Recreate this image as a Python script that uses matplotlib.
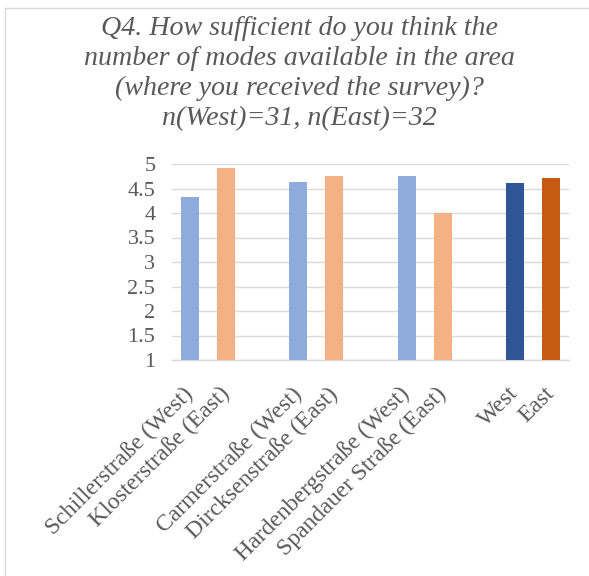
import matplotlib
matplotlib.use("Agg")
import matplotlib.pyplot as plt
from matplotlib.lines import Line2D

# Mean rating per survey location (scale 1-5)
groups = [
    ["Schillerstraße (West)", "Klosterstraße (East)"],
    ["Carmerstraße (West)", "Dircksenstraße (East)"],
    ["Hardenbergstraße (West)", "Spandauer Straße (East)"],
    ["West", "East"],
]
values = [
    [4.33, 4.92],
    [4.63, 4.75],
    [4.75, 4.00],
    [4.61, 4.71],
]
bar_colors = [
    ["#8FAADC", "#F4B183"],
    ["#8FAADC", "#F4B183"],
    ["#8FAADC", "#F4B183"],
    ["#2F5597", "#C55A11"],
]
yticks = [1, 1.5, 2, 2.5, 3, 3.5, 4, 4.5, 5]
title = ("Q4. How sufficient do you think the\n"
         "number of modes available in the area\n"
         "(where you received the survey)?\n"
         "n(West)=31, n(East)=32")

text_color = "#595959"
grid_color = "#D9D9D9"
serif = ["Liberation Serif", "DejaVu Serif"]

fig = plt.figure(figsize=(5.89, 5.76), dpi=100)
ax = fig.add_axes([172 / 589, 1 - 360 / 576, 397 / 589, 196 / 576])

# one empty slot between each pair of bars
positions, labels, heights, colors = [], [], [], []
for g, (names, vals, cols) in enumerate(zip(groups, values, bar_colors)):
    for i in range(2):
        positions.append(g * 3 + i)
        labels.append(names[i])
        heights.append(vals[i])
        colors.append(cols[i])

ax.bar(positions, [h - 1 for h in heights], bottom=1, width=0.5,
       color=colors, zorder=3)

ax.set_xlim(-0.5, 10.5)
ax.set_ylim(1, 5)
ax.set_yticks(yticks)
ax.set_yticklabels([f"{t:g}" for t in yticks], family=serif,
                   fontsize=16, color=text_color)
ax.set_xticks(positions)
ax.set_xticklabels(labels, family=serif, fontsize=17, color=text_color,
                   rotation=45, ha="right", va="center",
                   rotation_mode="anchor")
ax.tick_params(axis="both", length=0)
ax.tick_params(axis="y", pad=12)
ax.tick_params(axis="x", pad=22)

ax.yaxis.grid(True, color=grid_color, linewidth=1.0, zorder=0)
for side in ["top", "right", "left"]:
    ax.spines[side].set_visible(False)
ax.spines["bottom"].set_color(grid_color)
ax.spines["bottom"].set_linewidth(1.0)
ax.set_facecolor("none")

fig.text(299 / 589, 1 - 16 / 576, title, ha="center", va="top",
         family=serif, style="italic", fontsize=20.2, color=text_color,
         linespacing=1.26)

# chart frame
fig.add_artist(Line2D([5 / 589, 1], [1 - 8 / 576, 1 - 8 / 576],
                      color=grid_color, linewidth=1.0))
fig.add_artist(Line2D([5 / 589, 5 / 589], [0, 1 - 8 / 576],
                      color=grid_color, linewidth=1.0))

fig.savefig("out.png", dpi=100)
